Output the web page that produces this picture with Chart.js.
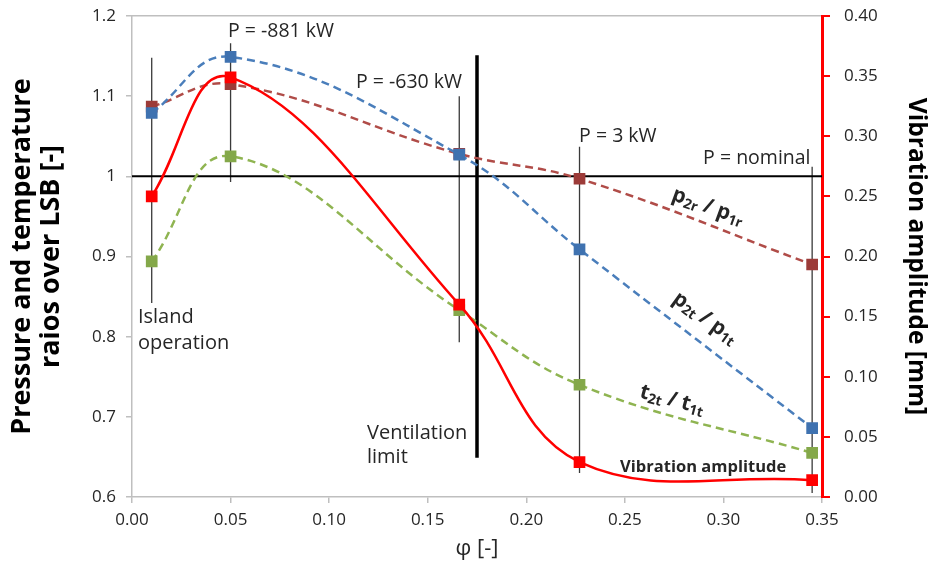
<!DOCTYPE html>
<html>
<head>
<meta charset="utf-8">
<script src="https://cdn.jsdelivr.net/npm/chart.js@4.4.0/dist/chart.umd.min.js"></script>
<style>
  html, body { margin: 0; padding: 0; background: #fff; }
  #wrap { width: 939px; height: 572px; }
</style>
</head>
<body>
<div id="wrap"><canvas id="chart" width="939" height="572"></canvas></div>
<script>
// measured operating points
const phi = [0.01, 0.05, 0.166, 0.227, 0.345];
const p2rOverP1r = [1.087, 1.115, 1.028, 0.997, 0.890];
const p2tOverP1t = [1.079, 1.149, 1.027, 0.909, 0.686];
const t2tOverT1t = [0.894, 1.025, 0.833, 0.740, 0.655];
const vibration = [0.250, 0.349, 0.160, 0.029, 0.014];

// thin marker lines at each operating point (left axis units)
const guideTop = [1.148, 1.166, 1.100, 1.037, 1.012];
const guideBottom = [0.842, 0.993, 0.793, 0.630, 0.605];

// ventilation limit
const ventPhi = [0.175, 0.175];
const ventRatio = [1.151, 0.649];

// tick labels
const xTickLabels = ['0.00', '0.05', '0.10', '0.15', '0.20', '0.25', '0.30', '0.35'];
const leftTickLabels = ['0.6', '0.7', '0.8', '0.9', '1', '1.1', '1.2'];
const rightTickLabels = ['0.00', '0.05', '0.10', '0.15', '0.20', '0.25', '0.30', '0.35', '0.40'];

const FONT = '"Open Sans", "DejaVu Sans", sans-serif';
const TEXT = '#262626';

function pts(xs, ys) {
    return xs.map((x, i) => ({ x: x, y: ys[i] }));
}

const guideSets = phi.map((p, i) => ({
    data: [{ x: p, y: guideTop[i] }, { x: p, y: guideBottom[i] }],
    borderColor: '#3a3a3a', borderWidth: 1.3, pointRadius: 0,
    showLine: true, yAxisID: 'y', order: 20
}));

// text labels placed in data coordinates (left axis)
const notes = [
    { runs: [['P = -881 kW', 19.5]], x: 0.0487, y: 1.181, align: 'left' },
    { runs: [['P = -630 kW', 19.5]], x: 0.1136, y: 1.117, align: 'left' },
    { runs: [['P = 3 kW', 19.5]], x: 0.2268, y: 1.050, align: 'left' },
    { runs: [['P = nominal', 19.5]], x: 0.2897, y: 1.022, align: 'left' },
    { runs: [['Island', 20]], x: 0.003, y: 0.824, align: 'left' },
    { runs: [['operation', 20]], x: 0.003, y: 0.792, align: 'left' },
    { runs: [['Ventilation', 20]], x: 0.1192, y: 0.680, align: 'left' },
    { runs: [['limit', 20]], x: 0.1192, y: 0.649, align: 'left' },
    { runs: [['Vibration amplitude', 16.5, true]], x: 0.2897, y: 0.637, align: 'center' },
    { runs: [['p', 21, true], ['2r', 14, true, 5], [' / p', 21, true], ['1r', 14, true, 5]], x: 0.2922, y: 0.962, align: 'center', angle: 20 },
    { runs: [['p', 21, true], ['2t', 14, true, 5], [' / p', 21, true], ['1t', 14, true, 5]], x: 0.2907, y: 0.823, align: 'center', angle: 36 },
    { runs: [['t', 21, true], ['2t', 14, true, 5], [' / t', 21, true], ['1t', 14, true, 5]], x: 0.274, y: 0.721, align: 'center', angle: 15 }
];

const notesPlugin = {
    id: 'notes',
    afterDatasetsDraw(chart) {
        const ctx = chart.ctx;
        const xs = chart.scales.x, ys = chart.scales.y;
        notes.forEach(n => {
            const px = xs.getPixelForValue(n.x);
            const py = ys.getPixelForValue(n.y);
            let total = 0;
            n.runs.forEach(r => {
                ctx.font = (r[2] ? 'bold ' : '') + r[1] + 'px ' + FONT;
                total += ctx.measureText(r[0]).width;
            });
            ctx.save();
            ctx.translate(px, py);
            ctx.rotate((n.angle || 0) * Math.PI / 180);
            ctx.fillStyle = TEXT;
            ctx.textBaseline = 'middle';
            ctx.textAlign = 'left';
            let cx = n.align === 'center' ? -total / 2 : 0;
            n.runs.forEach(r => {
                ctx.font = (r[2] ? 'bold ' : '') + r[1] + 'px ' + FONT;
                ctx.fillText(r[0], cx, r[3] || 0);
                cx += ctx.measureText(r[0]).width;
            });
            ctx.restore();
        });
    }
};

const dashed = (label, ys, line, mark) => ({
    label: label,
    data: pts(phi, ys),
    borderColor: line, backgroundColor: mark,
    pointBackgroundColor: mark, pointBorderColor: mark,
    borderWidth: 2.5, borderDash: [8, 5],
    pointStyle: 'rect', pointRadius: 6.5, pointHoverRadius: 6.5,
    showLine: true, tension: 0.4, yAxisID: 'y', order: 2
});

// keep the plot box fixed: no extra room reserved for half tick labels
const noPad = s => { s.paddingTop = 0; s.paddingBottom = 0; s.paddingLeft = 0; s.paddingRight = 0; };

new Chart(document.getElementById('chart'), {
    type: 'scatter',
    data: {
        datasets: [
            ...guideSets,
            {
                data: [{ x: 0, y: 1 }, { x: 0.35, y: 1 }],
                borderColor: '#000', borderWidth: 2, pointRadius: 0,
                showLine: true, yAxisID: 'y', order: 15
            },
            {
                data: pts(ventPhi, ventRatio),
                borderColor: '#000', borderWidth: 3.5, pointRadius: 0,
                showLine: true, yAxisID: 'y', order: 15
            },
            dashed('p2t/p1t', p2tOverP1t, '#4a7ebb', '#3f72b0'),
            dashed('t2t/t1t', t2tOverT1t, '#8fb451', '#84a84a'),
            dashed('p2r/p1r', p2rOverP1r, '#b04c48', '#9c3b38'),
            {
                label: 'Vibration amplitude',
                data: pts(phi, vibration),
                borderColor: '#ff0000', backgroundColor: '#ff0000',
                pointBackgroundColor: '#ff0000', pointBorderColor: '#ff0000',
                borderWidth: 2.5, pointStyle: 'rect', pointRadius: 6.5,
                showLine: true, tension: 0.4, yAxisID: 'y1', order: 1
            }
        ]
    },
    options: {
        responsive: false,
        animation: false,
        devicePixelRatio: 1,
        layout: { padding: 0 },
        plugins: { legend: { display: false }, tooltip: { enabled: false } },
        scales: {
            x: {
                type: 'linear', position: 'bottom', min: 0, max: 0.35,
                afterFit: s => { s.height = 75; noPad(s); },
                ticks: {
                    stepSize: 0.05, padding: 7, color: TEXT,
                    font: { family: FONT, size: 17 },
                    callback: (v, i) => xTickLabels[i]
                },
                grid: { drawOnChartArea: false, drawTicks: true, tickLength: 6, color: '#bfbfbf', lineWidth: 1.5 },
                border: { color: '#bfbfbf', width: 1.5 },
                title: { display: true, text: 'φ [-]', color: TEXT, font: { family: FONT, size: 22 }, padding: { top: 2, bottom: 10 } }
            },
            xTop: {
                type: 'linear', position: 'top', min: 0, max: 0.35,
                afterFit: s => { s.height = 16; noPad(s); },
                ticks: { display: false },
                grid: { display: false },
                border: { color: '#bfbfbf', width: 1.5 }
            },
            y: {
                type: 'linear', position: 'left', min: 0.6, max: 1.2,
                afterFit: s => { s.width = 132; noPad(s); },
                ticks: {
                    stepSize: 0.1, padding: 10, color: TEXT,
                    font: { family: FONT, size: 17 },
                    callback: (v, i) => leftTickLabels[i]
                },
                grid: { drawOnChartArea: false, drawTicks: true, tickLength: 6, color: '#bfbfbf', lineWidth: 1.5 },
                border: { color: '#bfbfbf', width: 1.5 },
                title: {
                    display: true, text: ['Pressure and temperature', 'raios over LSB [-]'],
                    color: '#000', font: { family: FONT, size: 27, weight: 'bold', lineHeight: 1.1 }, padding: { top: 7, bottom: 0 }
                }
            },
            y1: {
                type: 'linear', position: 'right', min: 0, max: 0.4,
                afterFit: s => { s.width = 117; noPad(s); },
                ticks: {
                    stepSize: 0.05, padding: 14, color: TEXT,
                    font: { family: FONT, size: 17 },
                    callback: (v, i) => rightTickLabels[i]
                },
                grid: { drawOnChartArea: false, drawTicks: true, tickLength: 8, color: '#ff0000', lineWidth: 2 },
                border: { color: '#ff0000', width: 3 },
                title: {
                    display: true, text: 'Vibration amplitude [mm]',
                    color: '#000', font: { family: FONT, size: 24.5, weight: 'bold' }, padding: { top: 8, bottom: 0 }
                }
            }
        }
    },
    plugins: [notesPlugin]
});
</script>
</body>
</html>
